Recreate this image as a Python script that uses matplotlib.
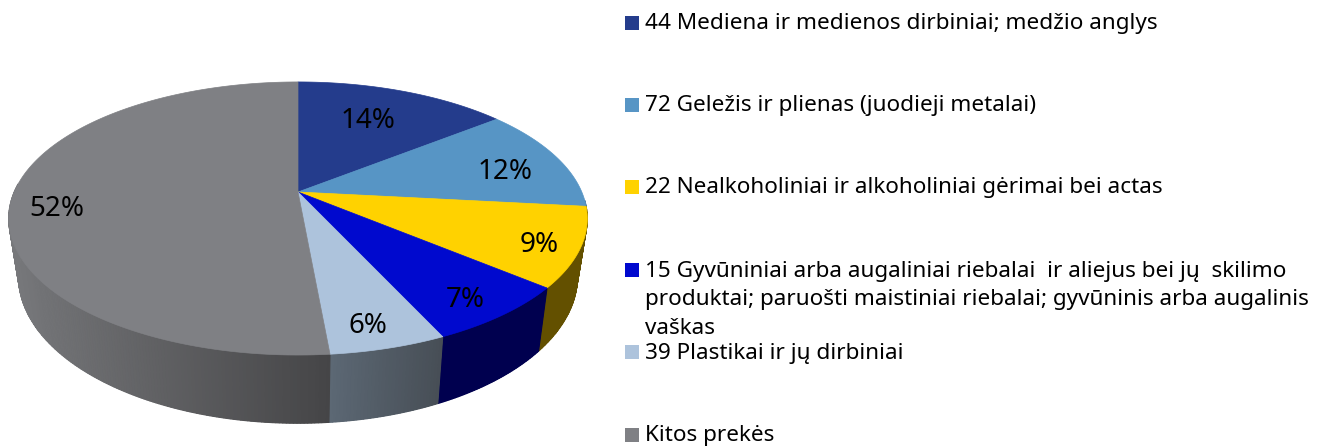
import numpy as np
import matplotlib
matplotlib.use("Agg")
import matplotlib.pyplot as plt
from matplotlib.patches import Rectangle

# slice sizes are estimated from the picture, printed labels are the rounded ones
shares = [14.35, 12.35, 9.35, 7.05, 5.45, 51.45]
pct_labels = ["14%", "12%", "9%", "7%", "6%", "52%"]
top_colors = ["#243c8c", "#5795c5", "#ffd200", "#0009ce", "#adc3dc", "#7f8084"]
side_left = ["#1a2b66", "#3d6a8e", "#635000", "#00004f", "#5c6874", "#77787b"]
side_right = ["#1a2b66", "#3d6a8e", "#635000", "#00004f", "#474e56", "#454547"]
legend_lines = [
    ["44 Mediena ir medienos dirbiniai; medžio anglys"],
    ["72 Geležis ir plienas (juodieji metalai)"],
    ["22 Nealkoholiniai ir alkoholiniai gėrimai bei actas"],
    ["15 Gyvūniniai arba augaliniai riebalai  ir aliejus bei jų  skilimo",
     "produktai; paruošti maistiniai riebalai; gyvūninis arba augalinis",
     "vaškas"],
    ["39 Plastikai ir jų dirbiniai"],
    ["Kitos prekės"],
]

FONT = "Noto Sans"
CX, CY = 298, 192
RX, RY, K = 283.8, 131.4, 0.194


def top_xy(pct):
    a = np.radians(np.asarray(pct) * 3.6)
    u, v = np.sin(a), np.cos(a)
    d = 1 + K * v
    return CX + RX * u / d, CY - RY * v / d


def bottom_xy(pct):
    x, y = top_xy(pct)
    return CX + (x - CX) * 0.966, y + 56 + 0.075 * (y - CY)


def mix(c1, c2, t):
    a = np.array(matplotlib.colors.to_rgb(c1))
    b = np.array(matplotlib.colors.to_rgb(c2))
    return a + (b - a) * t


fig = plt.figure(figsize=(13.24, 4.48), dpi=100)
ax = fig.add_axes([0, 0, 1, 1])
ax.set_xlim(0, 1324)
ax.set_ylim(448, 0)
ax.axis("off")

edges = np.concatenate([[0], np.cumsum(shares)])

# side wall, only the front part is seen
for i in range(len(shares)):
    lo, hi = max(edges[i], 26.0), min(edges[i + 1], 76.0)
    if hi <= lo:
        continue
    steps = np.linspace(lo, hi, int((hi - lo) * 6) + 2)
    xt, yt = top_xy(steps)
    xb, yb = bottom_xy(steps)
    x0, x1 = xb.min(), xb.max()
    # plain base first so the strips leave no seams
    ax.fill(np.r_[xt, xb[::-1]], np.r_[yt, yb[::-1]],
            color=mix(side_left[i], side_right[i], 0.5), lw=0, zorder=2)
    for j in range(len(steps) - 1):
        t = 0.5 * (xb[j] + xb[j + 1] - 2 * x0) / max(x1 - x0, 1)
        col = mix(side_left[i], side_right[i], t)
        ax.fill([xt[j], xt[j + 1], xb[j + 1], xb[j]],
                [yt[j], yt[j + 1], yb[j + 1], yb[j]],
                facecolor=col, edgecolor=col, lw=0.8, zorder=2)

# top face
for i in range(len(shares)):
    steps = np.linspace(edges[i], edges[i + 1], 200)
    x, y = top_xy(steps)
    ax.fill(np.r_[CX, x], np.r_[CY, y], facecolor=top_colors[i],
            edgecolor=top_colors[i], lw=0.5, zorder=3)

label_pos = [(368, 121), (505, 172), (539, 245), (465, 300), (368, 326), (57, 209)]
for txt, (lx, ly) in zip(pct_labels, label_pos):
    ax.text(lx, ly, txt, fontsize=20, family=FONT, ha="center", va="center",
            color="black", zorder=5)

# legend drawn by hand, the rows are unevenly wrapped
row_y = [23, 105, 187, 270, 352, 435]
for lines, col, y in zip(legend_lines, top_colors, row_y):
    ax.add_patch(Rectangle((625, y - 7), 14, 14, facecolor=col, edgecolor="none"))
    for n, line in enumerate(lines):
        ax.text(645, y + 1 + n * 29, line, fontsize=16.2, family=FONT,
                ha="left", va="center", color="black")

fig.savefig("out.png", dpi=100)
